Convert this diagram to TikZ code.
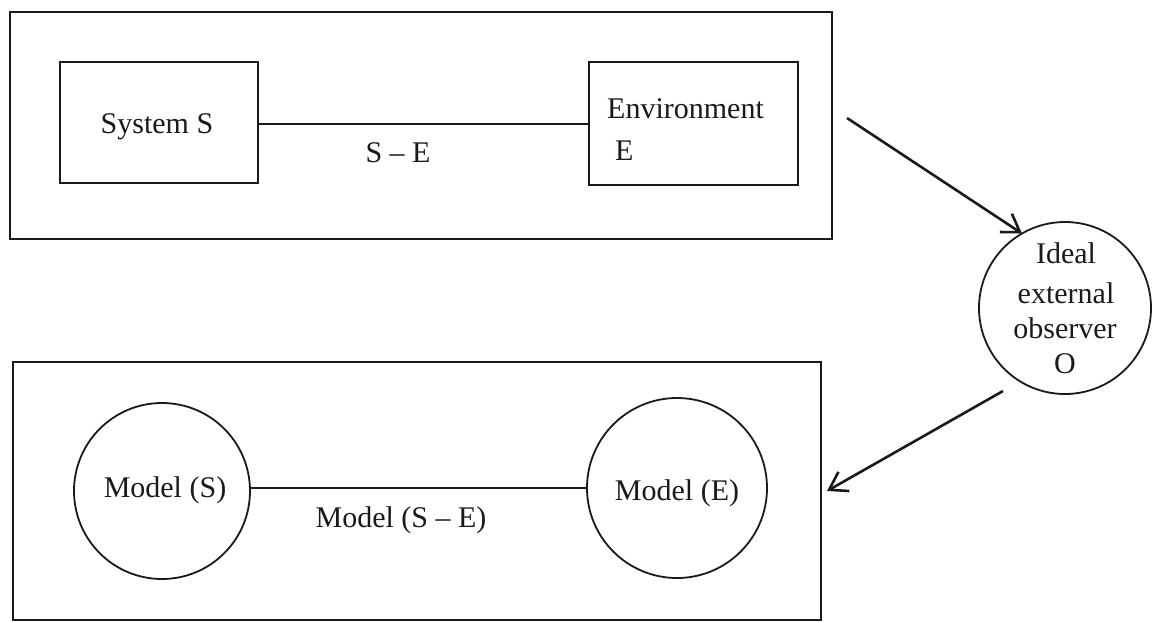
\documentclass[tikz,border=0pt]{standalone}
\usepackage{fontspec}
\setmainfont{Liberation Serif}
\usetikzlibrary{arrows.meta}
\definecolor{ink}{HTML}{1A1A1A}
\tikzset{
  frame/.style={draw=ink, line width=2.2pt, rectangle, inner sep=0pt, outer sep=0pt},
  boxnode/.style={draw=ink, line width=2.2pt, rectangle, inner sep=0pt, outer sep=0pt},
  roundnode/.style={draw=ink, line width=1.8pt, circle, inner sep=0pt, outer sep=0pt},
  lbl/.style={text=ink, inner sep=0pt, font=\fontsize{30}{36}\selectfont},
  link/.style={draw=ink, line width=2.2pt},
  flow/.style={draw=ink, line width=2.6pt, -{Straight Barb[length=17pt, width=22pt, line width=2.6pt]}}
}
\begin{document}
\begin{tikzpicture}[x=1pt, y=-1pt]
\useasboundingbox[fill=white] (0,0) rectangle (1153,622);

% real system and its environment
\node[frame, minimum width=822, minimum height=227] (top) at (421,125.5) {};
\node[boxnode, minimum width=198, minimum height=121] (sys) at (159,122.5) {};
\node[boxnode, minimum width=209, minimum height=123] (env) at (693.5,123.5) {};
\node[lbl, anchor=base] (sysl) at (157,133) {System S};
\node[lbl, anchor=base west] (envl) at (607,118) {Environment};
\node[lbl, anchor=base west] (envl2) at (615,160) {E};
\draw[link] (sys.east |- 0,124) -- (env.west |- 0,124);
\node[lbl, anchor=base] (sel) at (398,162) {S -- E};

% observer
\node[roundnode, minimum size=172] (obs) at (1065,308) {};
\node[lbl, anchor=base] (o1) at (1066,263) {Ideal};
\node[lbl, anchor=base] (o2) at (1066,303) {external};
\node[lbl, anchor=base] (o3) at (1065,338) {observer};
\node[lbl, anchor=base] (o4) at (1065,373) {O};

% model of the system and its environment
\node[frame, minimum width=808, minimum height=258] (bot) at (417,491) {};
\node[roundnode, minimum size=176] (ms) at (162,491) {};
\node[roundnode, minimum size=180] (me) at (677,488) {};
\node[lbl, anchor=base] (msl) at (165,497) {Model (S)};
\node[lbl, anchor=base] (mel) at (677,500) {Model (E)};
\draw[link] (ms.east |- 0,488) -- (me.west |- 0,488);
\node[lbl, anchor=base] (msel) at (401,527) {Model (S -- E)};

% observation and modelling arrows
\coordinate (a1) at (847,118);
\coordinate (a2) at (1003,391);
\draw[flow] (a1) -- (obs.120);
\draw[flow] (a2) -- ([xshift=6pt]bot.east);
\end{tikzpicture}
\end{document}
